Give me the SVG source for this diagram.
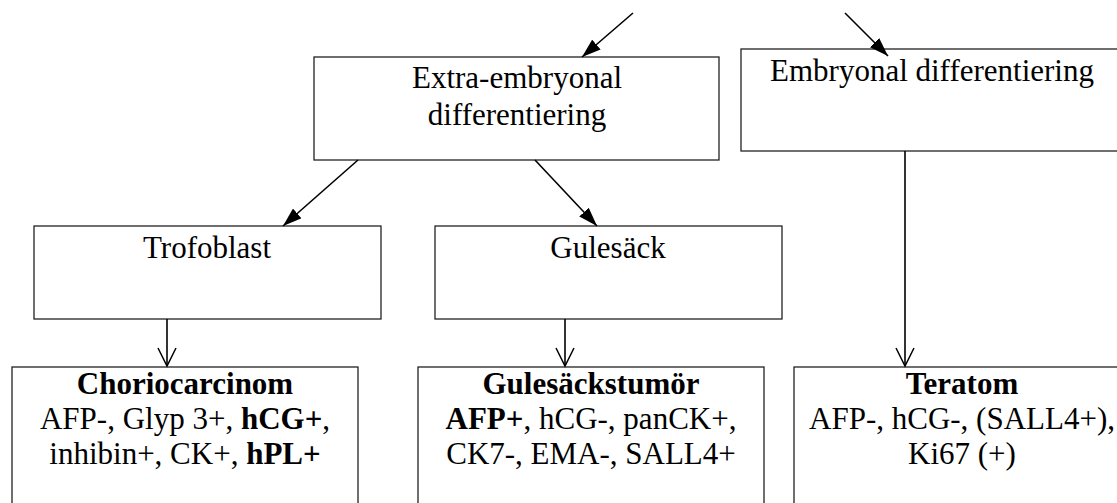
<svg xmlns="http://www.w3.org/2000/svg" width="1117" height="503" viewBox="0 0 1117 503">
<style>
.box{fill:#fff;stroke:#222;stroke-width:1.3}
.t{font-family:"Liberation Serif","Times New Roman",serif;font-size:31px;fill:#000;text-anchor:middle}
.b{font-weight:bold}
.c{stroke:#000;stroke-width:1.6;fill:none}
</style>
<defs>
<marker id="fill" markerUnits="userSpaceOnUse" viewBox="0 0 19 13" markerWidth="19" markerHeight="13" refX="19" refY="6.5" orient="auto">
<path d="M0,0 L19,6.5 L0,13 z" fill="#000"/>
</marker>
<marker id="open" markerUnits="userSpaceOnUse" viewBox="-1 -1 21 20" markerWidth="21" markerHeight="20" refX="18" refY="9" orient="auto">
<path d="M0,0 L18,9 L0,18" fill="none" stroke="#000" stroke-width="1.5"/>
</marker>
</defs>
<rect width="1117" height="503" fill="#fff"/>
<g id="extra">
<rect class="box" x="314" y="57" width="405" height="103"/>
<text class="t" x="517" y="88">Extra-embryonal</text>
<text class="t" x="517" y="125">differentiering</text>
</g>
<g id="embryonal">
<rect class="box" x="741" y="49" width="390" height="102"/>
<text class="t" x="932" y="81">Embryonal differentiering</text>
</g>
<g id="trofoblast">
<rect class="box" x="34" y="226" width="347" height="93"/>
<text class="t" x="207" y="258">Trofoblast</text>
</g>
<g id="gulesack">
<rect class="box" x="435" y="226" width="347" height="93"/>
<text class="t" x="608" y="258">Gulesäck</text>
</g>
<g id="chorio">
<rect class="box" x="12" y="367" width="346" height="150"/>
<text class="t b" x="185" y="394">Choriocarcinom</text>
<text class="t" x="185" y="429">AFP-, Glyp 3+, <tspan class="b">hCG+</tspan>,</text>
<text class="t" x="185" y="464">inhibin+, CK+, <tspan class="b">hPL+</tspan></text>
</g>
<g id="gulesackstumor">
<rect class="box" x="418" y="367" width="346" height="150"/>
<text class="t b" x="591" y="394">Gulesäckstumör</text>
<text class="t" x="591" y="429"><tspan class="b">AFP+</tspan>, hCG-, panCK+,</text>
<text class="t" x="591" y="464">CK7-, EMA-, SALL4+</text>
</g>
<g id="teratom">
<rect class="box" x="794" y="367" width="336" height="150"/>
<text class="t b" x="962" y="394">Teratom</text>
<text class="t" x="962" y="429">AFP-, hCG-, (SALL4+),</text>
<text class="t" x="962" y="464">Ki67 (+)</text>
</g>
<g id="connectors">
<line class="c" x1="633" y1="13" x2="582" y2="57" marker-end="url(#fill)"/>
<line class="c" x1="845" y1="13" x2="888" y2="56" marker-end="url(#fill)"/>
<line class="c" x1="358" y1="160" x2="283" y2="226" marker-end="url(#fill)"/>
<line class="c" x1="535" y1="160" x2="597" y2="226" marker-end="url(#fill)"/>
<line class="c" x1="167" y1="319" x2="167" y2="366" marker-end="url(#open)"/>
<line class="c" x1="565" y1="319" x2="565" y2="366" marker-end="url(#open)"/>
<line class="c" x1="905" y1="151" x2="905" y2="366" marker-end="url(#open)"/>
</g>
</svg>
